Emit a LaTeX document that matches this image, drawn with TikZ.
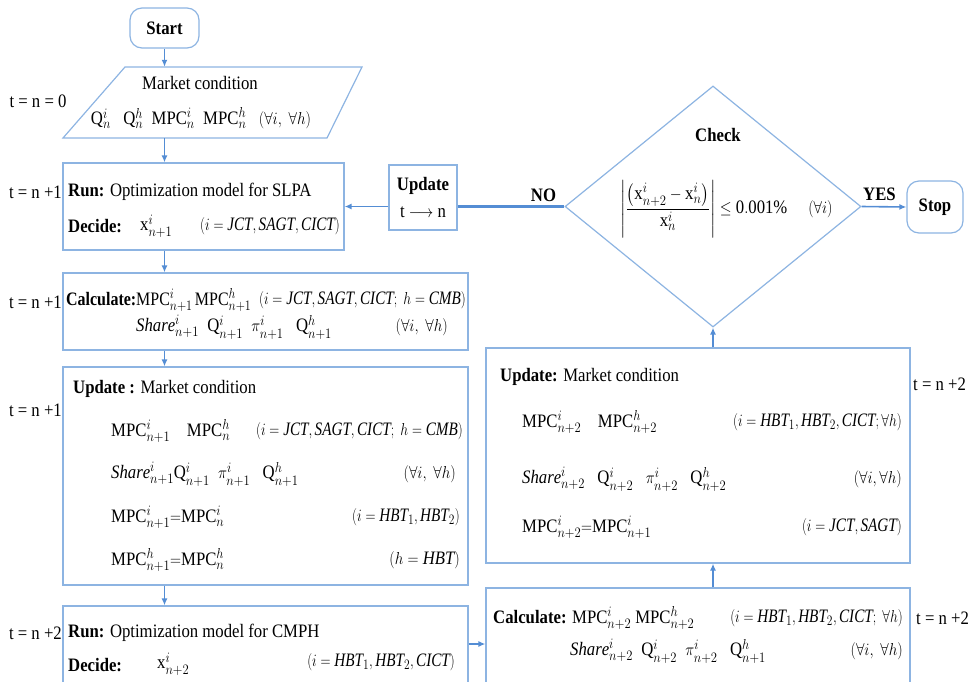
\documentclass[tikz,border=0pt]{standalone}
\usepackage{amsmath,amssymb}
\usepackage{fontspec}
\setmainfont{Liberation Serif}
\usetikzlibrary{shapes.geometric,arrows.meta,calc}

\definecolor{edgec}{RGB}{141,180,226}
\definecolor{flowc}{RGB}{84,141,212}

% condensed text, as the flowchart sets it
\newcommand\sq[1]{\scalebox{0.88}[1]{#1}}
% tighter setting for the index-set remarks
\newcommand\sqn[1]{\scalebox{0.80}[1]{#1}}
\newcommand\MPC{\mathrm{MPC}}
\newcommand\Qv{\mathrm{Q}}
\newcommand\xv{\mathrm{x}}
\newcommand\Shr{\mathit{Share}}

\tikzset{
  frame/.style={draw=edgec, line width=1.2pt, inner sep=0pt, fill=white},
  term/.style={frame, rounded corners=12pt},
  txt/.style={inner sep=0pt, font=\fontsize{19}{22}\selectfont},
  flow/.style={draw=flowc, line width=1.6pt, -{Latex[length=7pt,width=6pt]}},
  thickflow/.style={draw=flowc, line width=2.4pt},
}

\begin{document}
\begin{tikzpicture}[x=1pt,y=-1pt]
\useasboundingbox (0,0) rectangle (978,681);
\clip (0,0) rectangle (978,681);

% ---- frames ----
\node[term, minimum width=69, minimum height=40] (start) at (164.5,28) {};
\node[inner sep=0pt, minimum width=237, minimum height=71] (par) at (212.5,102.5) {};
\draw[draw=edgec, line width=1.2pt] (125,67) -- (362,67) -- (327,138) -- (63,138) -- cycle;
\node[frame, minimum width=281, minimum height=87] (b1) at (203.5,206.5) {};
\node[frame, minimum width=405, minimum height=77] (b2) at (265.5,311.5) {};
\node[frame, minimum width=405, minimum height=218] (b3) at (265.5,476) {};
\node[frame, minimum width=405, minimum height=94] (b4) at (265.5,653) {};
\node[frame, minimum width=424, minimum height=112] (b5) at (698,644) {};
\node[frame, minimum width=424, minimum height=215] (b6) at (698,455.5) {};
\node[frame, minimum width=68, minimum height=65] (upd) at (423,197.5) {};
\node[frame, diamond, minimum width=296, minimum height=241] (dia) at (713,206.5) {};
\node[term, minimum width=56, minimum height=52] (stop) at (935,207) {};

% ---- terminals ----
\node[txt] (startt) at (start) {\sq{\textbf{Start}}};
\node[txt] (stopt) at (stop) {\sq{\textbf{Stop}}};

% ---- initial market condition ----
\node[txt] (p1) at (200,83) {\sq{Market condition}};
\node[txt] (p2) at (201,118) {\sq{$\Qv^{i}_{n}\ \ \ \Qv^{h}_{n}\ \ \MPC^{i}_{n}\ \ \MPC^{h}_{n}\ \ \ (\forall i,\ \forall h)$}};

% ---- SLPA run ----
\node[txt, anchor=west] (b1a) at (68,192) {\sq{\textbf{Run:} Optimization model for SLPA}};
\node[txt, anchor=west] (b1b) at (68,226) {\sq{\textbf{Decide:}}};
\node[txt, anchor=west] (b1c) at (140,226) {\sq{$\xv^{i}_{n+1}$}};
\node[txt, anchor=east] (b1d) at (340,226) {\sqn{$(i=\mathit{JCT},\mathit{SAGT},\mathit{CICT})$}};

% ---- first calculation ----
\node[txt, anchor=west] (b2a) at (66,300) {\scalebox{0.84}[1]{\textbf{Calculate:}$\MPC^{i}_{n+1}\,\MPC^{h}_{n+1}$}};
\node[txt, anchor=east] (b2b) at (466,300) {\sqn{$(i=\mathit{JCT},\mathit{SAGT},\mathit{CICT};\ h=\mathit{CMB})$}};
\node[txt, anchor=west] (b2c) at (136,327) {\sq{$\Shr^{i}_{n+1}\ \ \Qv^{i}_{n+1}\ \ \pi^{i}_{n+1}\ \ \ \Qv^{h}_{n+1}$}};
\node[txt, anchor=east] (b2d) at (448,327) {\sq{$(\forall i,\ \forall h)$}};

% ---- first market update ----
\node[txt, anchor=west] (b3a) at (73,389) {\sq{\textbf{Update :} Market condition}};
\node[txt, anchor=west] (b3b) at (111,431) {\sq{$\MPC^{i}_{n+1}\quad\MPC^{h}_{n}$}};
\node[txt, anchor=east] (b3c) at (463,431) {\sqn{$(i=\mathit{JCT},\mathit{SAGT},\mathit{CICT};\ h=\mathit{CMB})$}};
\node[txt, anchor=west] (b3d) at (111,474) {\sq{$\Shr^{i}_{n+1}\Qv^{i}_{n+1}\ \ \pi^{i}_{n+1}\ \ \ \Qv^{h}_{n+1}$}};
\node[txt, anchor=east] (b3e) at (456,474) {\sq{$(\forall i,\ \forall h)$}};
\node[txt, anchor=west] (b3f) at (111,517) {\sq{$\MPC^{i}_{n+1}{=}\MPC^{i}_{n}$}};
\node[txt, anchor=east] (b3g) at (460,517) {\sqn{$(i=\mathit{HBT}_1,\mathit{HBT}_2)$}};
\node[txt, anchor=west] (b3h) at (111,560) {\sq{$\MPC^{h}_{n+1}{=}\MPC^{h}_{n}$}};
\node[txt, anchor=east] (b3i) at (460,560) {\sq{$(h=\mathit{HBT})$}};

% ---- CMPH run ----
\node[txt, anchor=west] (b4a) at (68,633) {\sq{\textbf{Run:} Optimization model for CMPH}};
\node[txt, anchor=west] (b4b) at (68,665) {\sq{\textbf{Decide:}}};
\node[txt, anchor=west] (b4c) at (157,664) {\sq{$\xv^{i}_{n+2}$}};
\node[txt, anchor=east] (b4d) at (455,662) {\sqn{$(i=\mathit{HBT}_1,\mathit{HBT}_2,\mathit{CICT})$}};

% ---- second calculation ----
\node[txt, anchor=west] (b5a) at (493,618) {\sq{\textbf{Calculate:} $\MPC^{i}_{n+2}\ \MPC^{h}_{n+2}$}};
\node[txt, anchor=east] (b5b) at (903,618) {\sqn{$(i=\mathit{HBT}_1,\mathit{HBT}_2,\mathit{CICT};\ \forall h)$}};
\node[txt, anchor=west] (b5c) at (570,651) {\sq{$\Shr^{i}_{n+2}\ \ \Qv^{i}_{n+2}\ \ \pi^{i}_{n+2}\ \ \ \Qv^{h}_{n+1}$}};
\node[txt, anchor=east] (b5d) at (903,651) {\sq{$(\forall i,\ \forall h)$}};

% ---- second market update ----
\node[txt, anchor=west] (b6a) at (500,377) {\sq{\textbf{Update:} Market condition}};
\node[txt, anchor=west] (b6b) at (522,422) {\sq{$\MPC^{i}_{n+2}\quad\MPC^{h}_{n+2}$}};
\node[txt, anchor=east] (b6c) at (902,422) {\sqn{$(i=\mathit{HBT}_1,\mathit{HBT}_2,\mathit{CICT};\forall h)$}};
\node[txt, anchor=west] (b6d) at (522,479) {\sq{$\Shr^{i}_{n+2}\ \ \ \Qv^{i}_{n+2}\ \ \ \pi^{i}_{n+2}\ \ \ \Qv^{h}_{n+2}$}};
\node[txt, anchor=east] (b6e) at (902,479) {\sq{$(\forall i,\forall h)$}};
\node[txt, anchor=west] (b6f) at (522,527) {\sq{$\MPC^{i}_{n+2}{=}\MPC^{i}_{n+1}$}};
\node[txt, anchor=east] (b6g) at (902,527) {\sqn{$(i=\mathit{JCT},\mathit{SAGT})$}};

% ---- convergence check ----
\node[txt] (chk) at (718,135) {\sq{\textbf{Check}}};
\node[txt, anchor=west] (cond) at (620,209) {\sq{$\left|\dfrac{\left(\xv^{i}_{n+2}-\xv^{i}_{n}\right)}{\xv^{i}_{n}}\right|\le \mathrm{0.001\%}\quad\ (\forall i)$}};
\node[txt] (u1) at (423,186) {\sq{\textbf{Update}}};
\node[txt] (u2) at (423,212) {\sq{t $\longrightarrow$ n}};
\node[txt] (no) at (543.5,195) {\sq{\textbf{NO}}};
\node[txt] (yes) at (879.5,194) {\sq{\textbf{YES}}};

% ---- time stamps ----
\node[txt] (l0) at (38,101) {\sq{t = n = 0}};
\node[txt, anchor=east] (l1) at (62,192) {\sq{t = n +1}};
\node[txt, anchor=east] (l2) at (62,302) {\sq{t = n +1}};
\node[txt, anchor=east] (l3) at (62,410) {\sq{t = n +1}};
\node[txt, anchor=east] (l4) at (62,633) {\sq{t = n +2}};
\node[txt, anchor=west] (l5) at (913,384) {\sq{t = n +2}};
\node[txt, anchor=west] (l6) at (916,618) {\sq{t = n +2}};

% ---- connectors ----
\draw[flow] (start.south) -- (start.south |- par.north);
\draw[flow] (par.south -| start.south) -- (b1.north -| start.south);
\draw[flow] (b1.south -| start.south) -- (b2.north -| start.south);
\draw[flow] (b2.south -| start.south) -- (b3.north -| start.south);
\draw[flow] (b3.south -| start.south) -- (b4.north -| start.south);
\draw[flow] (b4.east |- b5.west) -- (b5.west);
\draw[flow] (b5.north -| dia.south) -- (b6.south -| dia.south);
\draw[flow] (b6.north -| dia.south) -- (dia.south);
\draw[thickflow] (dia.west) -- (upd.east |- dia.west);
\draw[flow] (upd.west |- dia.west) -- (b1.east |- dia.west);
\draw[flow] (dia.east) -- (stop.west);
\end{tikzpicture}
\end{document}
